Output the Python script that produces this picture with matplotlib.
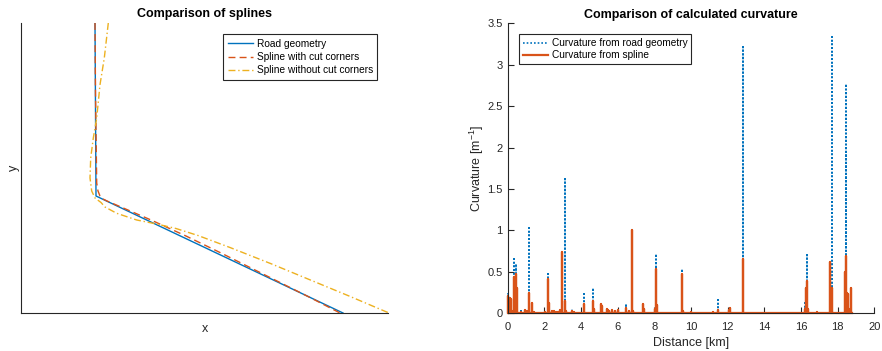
#!/usr/bin/env python3
# -*- coding: utf-8 -*-
# Spline comparison + curvature comparison (two panels)

import matplotlib
matplotlib.use('Agg')
import matplotlib.pyplot as plt

plt.rcParams['font.family'] = ['Liberation Sans', 'DejaVu Sans']
plt.rcParams['mathtext.default'] = 'regular'

# ---- left panel: road geometry and the two splines (arbitrary units) ----
road_x = [74, 75, 322]
road_y = [290, 117, 0]

cut_x = [74, 74.5, 75.3, 75.7, 77, 79, 82, 86, 100, 130, 165, 200, 250, 290, 319]
cut_y = [290, 220, 160, 130, 122, 117, 114, 112, 106, 93, 77, 60, 35, 15, 0]

nocut_x = [87.3, 83.3, 79, 75.7, 72.3, 69.7, 69, 70.7, 74, 80, 84, 95.7, 115.7,
           135.7, 155, 177, 209, 250, 279, 329, 368]
nocut_y = [290, 255, 228.3, 195, 175, 155, 135, 122, 115, 110.5, 106, 99.7, 93,
           89, 84.5, 77.5, 65.5, 49.3, 37.3, 16.6, 0]

# ---- right panel: curvature peaks ----
# road geometry curvature (zero between the corners)
geo_km = [0.02, 0.35, 0.45, 0.72, 1.16, 2.2, 3.13, 3.5, 4.18, 4.65, 6.47, 8.07,
          9.53, 11.49, 12.84, 16.22, 16.31, 17.67, 18.43, 18.45]
geo_curv = [0.25, 0.65, 0.60, 0.05, 1.03, 0.50, 1.62, 0.05, 0.23, 0.30, 0.11, 0.72,
            0.53, 0.16, 3.22, 0.13, 0.70, 3.34, 1.95, 2.77]

# spline curvature
spl_km = [0.03, 0.1, 0.18, 0.28, 0.35, 0.39, 0.42, 0.48, 0.52, 0.75, 0.95, 1.05,
          1.16, 1.3, 1.45, 2.05, 2.2, 2.28, 2.4, 2.55, 2.65, 2.75, 2.85, 2.96,
          3.13, 3.2, 3.5, 3.6, 4.18, 4.65, 4.7, 5.07, 5.12, 5.4, 5.45, 5.55,
          5.7, 5.85, 6.0, 6.45, 6.6, 6.8, 6.85, 7.38, 7.42, 8.02, 8.07, 8.12,
          9.53, 9.58, 10.0, 11.2, 11.49, 12.1, 12.15, 12.84, 16.2, 16.28, 16.32,
          16.38, 16.9, 17.57, 17.66, 17.7, 18.38, 18.44, 18.5, 18.56, 18.62,
          18.75, 18.8]
spl_curv = [0.21, 0.18, 0.17, 0.03, 0.44, 0.44, 0.44, 0.48, 0.30, 0.02, 0.04, 0.03,
            0.25, 0.13, 0.01, 0.02, 0.41, 0.13, 0.03, 0.03, 0.02, 0.02, 0.04, 0.74,
            0.15, 0.03, 0.03, 0.02, 0.11, 0.15, 0.05, 0.11, 0.09, 0.05, 0.04, 0.03,
            0.04, 0.03, 0.04, 0.07, 0.03, 1.005, 0.03, 0.11, 0.05, 0.05, 0.54, 0.10,
            0.48, 0.03, 0.01, 0.01, 0.04, 0.04, 0.064, 0.65, 0.05, 0.30, 0.39,
            0.05, 0.02, 0.62, 0.30, 0.30, 0.50, 0.695, 0.24, 0.23, 0.05,
            0.30, 0.0]


def spikes(km, curv):
    # vertical strokes from zero up to each peak and back
    xs, ys = [], []
    for d, c in zip(km, curv):
        xs += [d, d, d]
        ys += [0, c, 0]
    return [0] + xs, [0] + ys


blue = '#0072BD'
red = '#D95319'
yellow = '#EDB120'
axcol = '#262626'

fig = plt.figure(figsize=(8.82, 3.51), dpi=100)

# left
ax1 = fig.add_axes([21/882, 38/351, 367/882, 290/351])
ax1.plot(road_x, road_y, color=blue, lw=1.0, label='Road geometry')
ax1.plot(cut_x, cut_y, color=red, lw=1.0, ls=(0, (5, 3)), label='Spline with cut corners')
ax1.plot(nocut_x, nocut_y, color=yellow, lw=1.0, ls=(0, (5, 2, 1, 2)),
         label='Spline without cut corners')
ax1.set_xlim(0, 367)
ax1.set_ylim(0, 290)
ax1.set_xticks([])
ax1.set_yticks([])
for s in ['top', 'right']:
    ax1.spines[s].set_visible(False)
for s in ['left', 'bottom']:
    ax1.spines[s].set_color(axcol)
    ax1.spines[s].set_linewidth(0.8)
ax1.set_title('Comparison of splines', fontsize=9, fontweight='bold', pad=4)
ax1.set_xlabel('x', fontsize=9, color=axcol, labelpad=7)
ax1.set_ylabel('y', fontsize=9, color=axcol, labelpad=1)
leg1 = ax1.legend(loc='upper right', bbox_to_anchor=(0.971, 0.961), borderaxespad=0,
                  fontsize=7.3, handlelength=2.5, handletextpad=0.35, labelspacing=0.32,
                  borderpad=0.45, fancybox=False, framealpha=1, edgecolor=axcol)
leg1.get_frame().set_linewidth(0.8)

# right
ax2 = fig.add_axes([507.7/882, 37.7/351, 366.6/882, 290/351])
gx, gy = spikes(geo_km, geo_curv)
sx, sy = spikes(spl_km, spl_curv)
ax2.plot(gx, gy, color=blue, lw=1.2, ls=(0, (1, 1.2)), clip_on=False,
         label='Curvature from road geometry')
ax2.plot(sx, sy, color=red, lw=1.6, clip_on=False, label='Curvature from spline')
ax2.set_xlim(0, 20)
ax2.set_ylim(0, 3.5)
ax2.set_xticks(range(0, 21, 2))
ax2.set_yticks([0, 0.5, 1, 1.5, 2, 2.5, 3, 3.5])
ax2.set_yticklabels(['0', '0.5', '1', '1.5', '2', '2.5', '3', '3.5'])
ax2.tick_params(direction='in', length=4, width=0.8, colors=axcol, labelsize=8, pad=3.5)
ax2.tick_params(axis='x', pad=6)
for s in ['top', 'right']:
    ax2.spines[s].set_visible(False)
for s in ['left', 'bottom']:
    ax2.spines[s].set_color(axcol)
    ax2.spines[s].set_linewidth(0.8)
ax2.set_title('Comparison of calculated curvature', fontsize=9, fontweight='bold', pad=4)
ax2.set_xlabel('Distance [km]', fontsize=9, color=axcol, labelpad=4)
ax2.set_ylabel('Curvature [m$^{-1}$]', fontsize=9, color=axcol, labelpad=1)
leg2 = ax2.legend(loc='upper left', bbox_to_anchor=(0.030, 0.962), borderaxespad=0,
                  fontsize=7.3, handlelength=2.5, handletextpad=0.35, labelspacing=0.2,
                  borderpad=0.4, fancybox=False, framealpha=1, edgecolor=axcol)
leg2.get_frame().set_linewidth(0.8)

fig.savefig('out.png', dpi=100, facecolor='white')
